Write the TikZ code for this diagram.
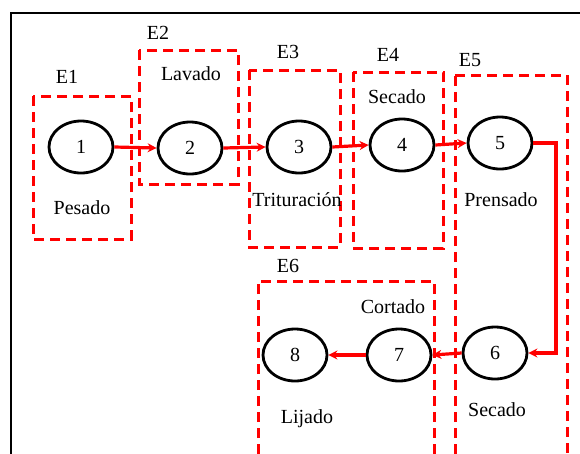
\documentclass[tikz,border=0pt]{standalone}
\usepackage{fontspec}
\setmainfont{Liberation Serif}
\usetikzlibrary{shapes.geometric,arrows.meta}
\begin{document}
\begin{tikzpicture}[x=1pt,y=-1pt,
  every node/.style={font=\fontsize{20}{23}\selectfont},
  proc/.style={ellipse,draw=black,line width=2.8pt,minimum width=64pt,minimum height=52pt,inner sep=0pt},
  stagebox/.style={draw=red,line width=3pt,dash pattern=on 10pt off 6pt},
  flow/.style={draw=red,line width=3.2pt,-{Stealth[length=9pt,width=9pt]}},
  lbl/.style={inner sep=0pt}]
\useasboundingbox (0,0) rectangle (580,453);
% frame
\draw[line width=2.8pt] (11,460) -- (11,13) -- (585,13);
% stage boxes
\draw[stagebox] (33,96) rectangle (131,239);
\draw[stagebox] (139,50) rectangle (238,184);
\draw[stagebox] (249,70) rectangle (340,247);
\draw[stagebox] (353,72) rectangle (443,248);
\draw[stagebox] (455,75) -- (567,75) -- (567,470) (455,470) -- (455,75);
\draw[stagebox] (258,470) -- (258,281) -- (434,281) -- (434,470);
% stage labels
\node[lbl] (e1) at (67,77) {E1};
\node[lbl] (e2) at (158,33) {E2};
\node[lbl] (e3) at (288,52) {E3};
\node[lbl] (e4) at (388,55) {E4};
\node[lbl] (e5) at (470,60) {E5};
\node[lbl] (e6) at (288,266) {E6};
% process labels
\node[lbl] (t1) at (82,208) {Pesado};
\node[lbl] (t2) at (191,74) {Lavado};
\node[lbl] (t3) at (297,200) {Trituración};
\node[lbl] (t4) at (397,97) {Secado};
\node[lbl] (t5) at (501,200) {Prensado};
\node[lbl] (t7) at (393,307) {Cortado};
\node[lbl] (t6) at (497,410) {Secado};
\node[lbl] (t8) at (307,419) {Lijado};
% process ellipses
\node[proc] (n1) at (81,147) {1};
\node[proc] (n2) at (190,148) {2};
\node[proc] (n3) at (299,147) {3};
\node[proc] (n4) at (402,145) {4};
\node[proc] (n5) at (500,143) {5};
\node[proc] (n6) at (495,353) {6};
\node[proc] (n7) at (399,355) {7};
\node[proc] (n8) at (295,355) {8};
\coordinate (c) at (556,250);
% flows
\draw[flow] (n1.east) -- (n2.west);
\draw[flow] (n2.east) -- (n3.west);
\draw[flow] (n3.east) -- (n4.west);
\draw[flow] (n4.east) -- (n5.west);
\draw[flow] (n5.east) -- (n5.east -| c) -- (c |- n6.east) -- (n6.east);
\draw[flow] (n6.west) -- (n7.east);
\draw[flow] (n7.west) -- (n8.east);
\end{tikzpicture}
\end{document}
